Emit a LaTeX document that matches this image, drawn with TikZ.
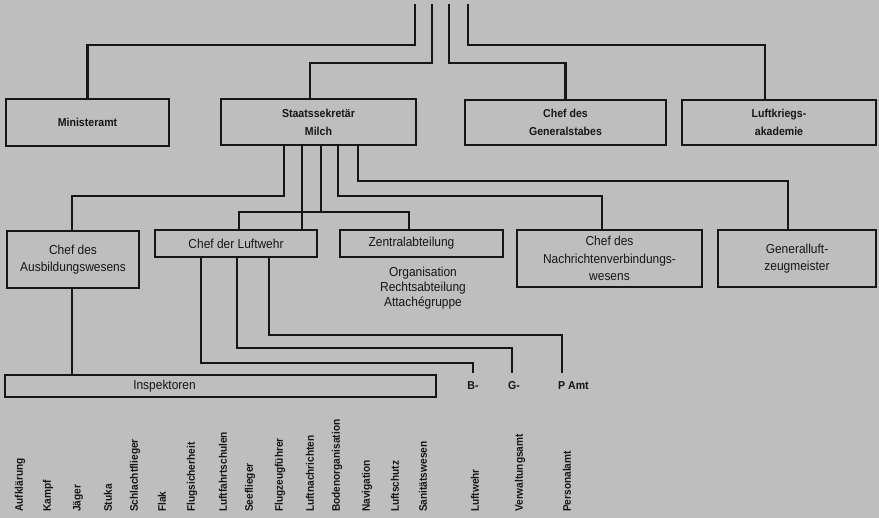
\documentclass[tikz,border=0pt]{standalone}
\usepackage{fontspec}
\setmainfont{Liberation Sans}[FakeStretch=0.92]
\definecolor{bg}{RGB}{190,190,190}
\definecolor{ink}{RGB}{22,22,22}
\begin{document}
\begin{tikzpicture}[x=1pt,y=-1pt,
  ln/.style={draw=ink, line width=2.1pt},
  box/.style={draw=ink, line width=2.1pt, inner sep=0pt, align=center, text=ink,
    font=\fontsize{13}{17.5}\selectfont},
  topbox/.style={box, font=\bfseries\fontsize{11.5}{18}\selectfont},
  lbl/.style={inner xsep=0pt, inner ysep=8pt, text=ink, font=\bfseries\fontsize{11.5}{13}\selectfont},
  rot/.style={rotate=90, anchor=west, inner sep=0pt, text=ink, font=\bfseries\fontsize{11}{12}\selectfont}]
\fill[bg] (0,0) rectangle (879,518);
\useasboundingbox (0,0) rectangle (879,518);

% free ends at the top
\coordinate (t1) at (415,4);
\coordinate (t2) at (432,4);
\coordinate (t3) at (449,4);
\coordinate (t4) at (468,4);

% top row
\node[topbox, minimum width=163pt, minimum height=47pt] (mw) at (87.5,122.5) {Ministeramt};
\node[topbox, minimum width=195pt, minimum height=46pt] (ss) at (318.5,122) {Staatssekretär\\Milch};
\node[topbox, minimum width=201pt, minimum height=45pt] (gs) at (565.5,122.5) {Chef des\\Generalstabes};
\node[topbox, minimum width=194pt, minimum height=45pt] (lka) at (779,122.5) {Luftkriegs-\\akademie};

% second row
\node[box, minimum width=132pt, minimum height=57pt] (aus) at (73,259.5) {Chef des\\Ausbildungswesens};
\node[box, minimum width=162pt, minimum height=27pt] (lw) at (236,243.5) {Chef der Luftwehr};
\node[box, minimum width=163pt, minimum height=27pt,
  label={[text=ink, font=\fontsize{13}{15}\selectfont, xshift=-10pt]center:Zentralabteilung}] (za) at (421.5,243.5) {};
\node[box, minimum width=185pt, minimum height=57pt] (nv) at (609.5,258.5) {Chef des\\Nachrichtenverbindungs-\\wesens};
\node[box, minimum width=158pt, minimum height=57pt] (glz) at (797,258.5) {Generalluft-\\zeugmeister};
\node[align=center, inner sep=0pt, text=ink, font=\fontsize{13}{15}\selectfont] (org) at (423,288)
  {Organisation\\Rechtsabteilung\\Attachégruppe};

% third row
\node[box, minimum width=431pt, minimum height=22pt,
  label={[text=ink, font=\fontsize{13}{15}\selectfont, xshift=-56pt]center:Inspektoren}] (insp) at (220.5,386) {};
\node[lbl, anchor=north] (b) at (473,373) {B-};
\node[lbl, anchor=north west] (g) at (508,373) {G-};
\node[lbl, anchor=north west] (pa) at (558,373) {P Amt};

% rotated labels
\foreach \x/\t in {20/Aufklärung, 48/Kampf, 78/Jäger, 108/Stuka, 135/Schlachtflieger,
  162/Flak, 192/Flugsicherheit, 223/Luftfahrtschulen, 250/Seeflieger, 280/Flugzeugführer,
  310/Luftnachrichten, 337/Bodenorganisation, 367/Navigation, 395/Luftschutz,
  423/Sanitätswesen, 475/Luftwehr, 520/Verwaltungsamt, 567/Personalamt}
  \node[rot] (r\x) at (\x,512) {\t};

% connectors from the top
\draw[ln] (t1) -- ++(0,41) -| (mw.north);
\draw[ln] (t2) -- ++(0,59) -| ([xshift=-8.5pt]ss.north);
\draw[ln] (t3) -- ++(0,59) -| (gs.north);
\draw[ln] (t4) -- ++(0,41) -| ([xshift=-14pt]lka.north);

% connectors from Staatssekretaer
\draw[ln] ([xshift=64pt]ss.south west) -- ++(0,50) -| ([xshift=-1pt]aus.north);
\draw[ln] ([xshift=82pt]ss.south west) -- ([xshift=148pt]lw.north west);
\draw[ln] ([xshift=101pt]ss.south west) -- ++(0,66) coordinate (cj);
\draw[ln] ([xshift=85pt]lw.north west) |- (cj) -| ([xshift=70pt]za.north west);
\draw[ln] ([xshift=118pt]ss.south west) -- ++(0,50) -| ([xshift=86pt]nv.north west);
\draw[ln] ([xshift=138pt]ss.south west) -- ++(0,35) -| ([xshift=71pt]glz.north west);

% connectors from Chef der Luftwehr
\draw[ln] ([xshift=47pt]lw.south west) -- ++(0,105) -| (b.north);
\draw[ln] ([xshift=83pt]lw.south west) -- ++(0,90) -| ([xshift=4pt]g.north west);
\draw[ln] ([xshift=115pt]lw.south west) -- ++(0,77) -| ([xshift=4pt]pa.north west);

% Ausbildung to Inspektoren
\draw[ln] ([xshift=-1pt]aus.south) -- ([xshift=-1pt]aus.south |- insp.north);
\end{tikzpicture}
\end{document}
